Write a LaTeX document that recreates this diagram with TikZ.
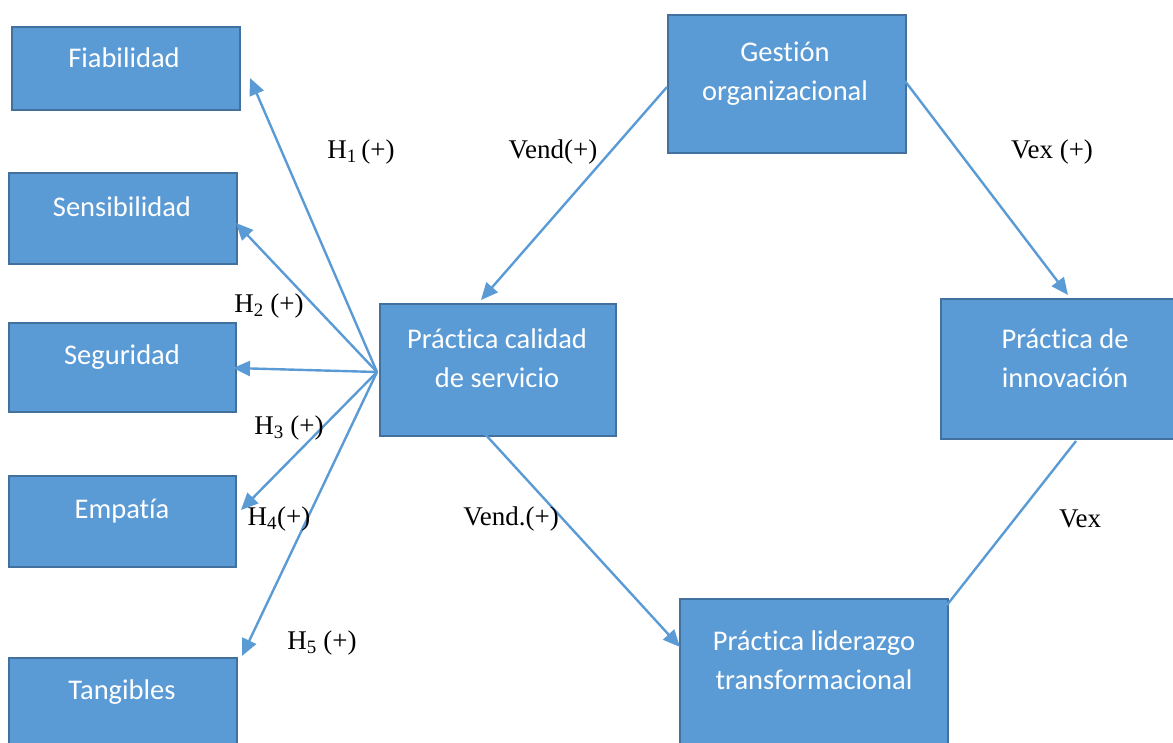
\documentclass[tikz,border=0pt]{standalone}
\usepackage{fontspec}
\setmainfont{Liberation Serif}
\newfontfamily\calfont[Ligatures=NoCommon]{Carlito}
\usetikzlibrary{arrows.meta}
\definecolor{boxfill}{HTML}{5B9BD5}
\definecolor{boxline}{HTML}{41719C}
\definecolor{arrowc}{HTML}{5B9BD5}
\tikzset{
  box/.style={draw=boxline, fill=boxfill, line width=2pt, rectangle, inner sep=0pt, anchor=north west},
  boxtext/.style={text=white, font=\calfont\fontsize{28.5}{39}\selectfont, align=center, anchor=base, inner sep=0pt},
  lab/.style={font=\fontsize{27}{32}\selectfont, inner sep=0pt},
  conn/.style={draw=arrowc, line width=2.4pt},
  arr/.style={conn, -{Triangle[length=17pt,width=15pt]}}
}
\begin{document}
\begin{tikzpicture}[x=1pt,y=-1pt]
\useasboundingbox (0,0) rectangle (1173,742);
% boxes
\node[box, minimum width=228pt, minimum height=83pt] (fia) at (11,26) {};
\node[box, minimum width=228pt, minimum height=91pt] (sen) at (8,172) {};
\node[box, minimum width=227pt, minimum height=89pt] (seg) at (8,322) {};
\node[box, minimum width=227pt, minimum height=91pt] (emp) at (8,475) {};
\node[box, minimum width=228pt, minimum height=110pt] (tan) at (8,657) {};
\node[box, minimum width=236pt, minimum height=132pt] (cal) at (379,303) {};
\node[box, minimum width=238pt, minimum height=138pt] (ges) at (667,14) {};
\node[box, minimum width=240pt, minimum height=140pt] (inn) at (940,298) {};
\node[box, minimum width=268pt, minimum height=160pt] (lid) at (679,598) {};
% box texts
\node[boxtext] (tfia) at (124,67) {Fiabilidad};
\node[boxtext] (tsen) at (122,216) {Sensibilidad};
\node[boxtext] (tseg) at (122,364) {Seguridad};
\node[boxtext] (temp) at (122,518) {Empatía};
\node[boxtext] (ttan) at (122,699) {Tangibles};
\node[boxtext] (tcal) at (497,387) {Práctica calidad\\de servicio};
\node[boxtext] (tges) at (785,100) {Gestión\\organizacional};
\node[boxtext] (tinn) at (1065,387) {Práctica de\\innovación};
\node[boxtext] (tlid) at (814,689) {Práctica liderazgo\\transformacional};
% endpoints
\coordinate (hub) at (377,372);
\coordinate (e1) at (250,78);
\coordinate (e2) at (236,223);
\coordinate (e3) at (233,368);
\coordinate (e4) at (241,510);
\coordinate (e5) at (242,656);
\coordinate (gl) at (667,87);
\coordinate (ct) at (481,300);
\coordinate (gr) at (905,81);
\coordinate (it) at (1068,295);
\coordinate (cb) at (485,434);
\coordinate (ll) at (680,647);
\coordinate (ib) at (1076,441);
\coordinate (lr) at (947,605);
% connectors
\draw[arr] (hub) -- (e1);
\draw[arr] (hub) -- (e2);
\draw[arr] (hub) -- (e3);
\draw[arr] (hub) -- (e4);
\draw[arr] (hub) -- (e5);
\draw[arr] (gl) -- (ct);
\draw[arr] (gr) -- (it);
\draw[arr] (cb) -- (ll);
\draw[conn] (ib) -- (lr);
% labels
\node[lab] (h1) at (361,152) {H\textsubscript{1}\,(+)};
\node[lab] (h2) at (269,306) {H\textsubscript{2} (+)};
\node[lab] (h3) at (289,428) {H\textsubscript{3} (+)};
\node[lab] (h4) at (279,519) {H\textsubscript{4}(+)};
\node[lab] (h5) at (322,643) {H\textsubscript{5} (+)};
\node[lab] (v1) at (553,152) {Vend(+)};
\node[lab] (v2) at (1052,152) {Vex (+)};
\node[lab] (v3) at (511,519) {Vend.(+)};
\node[lab] (v4) at (1080,519) {Vex};
\end{tikzpicture}
\end{document}
